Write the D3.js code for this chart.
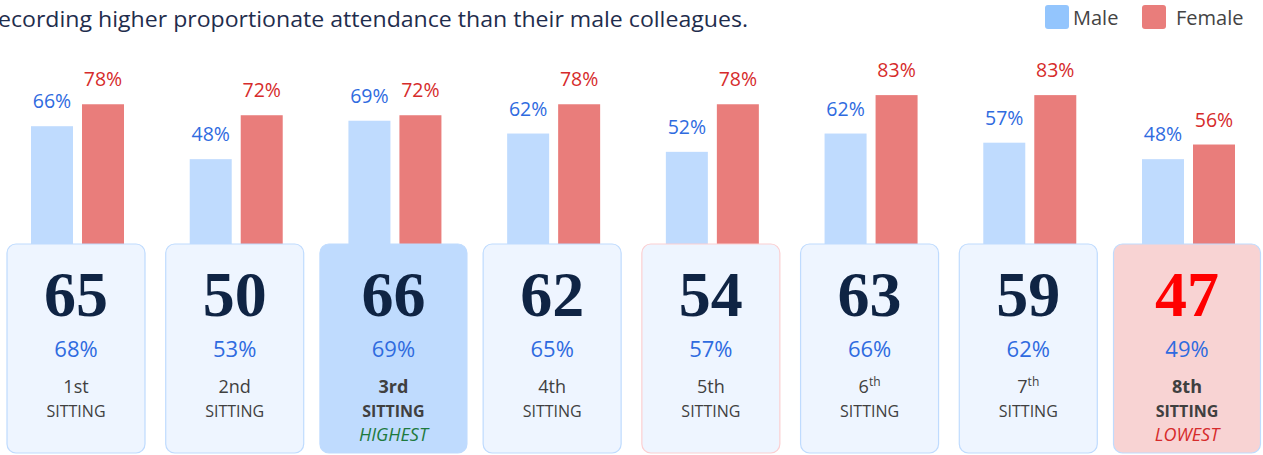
<!DOCTYPE html>
<html>
<head>
<meta charset="utf-8">
<script src="https://cdn.jsdelivr.net/npm/d3@7"></script>
<style>
  body { margin: 0; background: #fff; }
  svg { display: block; font-family: "Open Sans", sans-serif; }
</style>
</head>
<body>
<div id="chart"></div>
<script>
const sittings = ["1st", "2nd", "3rd", "4th", "5th", "6th", "7th", "8th"];
const malePct = [66, 48, 69, 62, 52, 62, 57, 48];
const femalePct = [78, 72, 72, 78, 78, 83, 83, 56];
const attendance = [65, 50, 66, 62, 54, 63, 59, 47];
const overallPct = [68, 53, 69, 65, 57, 66, 62, 49];
const notes = ["", "", "HIGHEST", "", "", "", "", "LOWEST"];

const dims = {width: 1263, height: 455};
const cardTop = 244, cardBottom = 453;

const svg = d3.select("#chart")
    .append("svg")
    .attr("width", dims.width)
    .attr("height", dims.height);

// subtitle line, cut at the left edge like the original
svg.append("text")
    .attr("x", -2)
    .attr("y", 27)
    .attr("font-size", 21)
    .attr("fill", "#1f2d4d")
    .attr("textLength", 750)
    .attr("lengthAdjust", "spacingAndGlyphs")
    .text("ecording higher proportionate attendance than their male colleagues.");

// legend
const legend = [
    {label: "Male", color: "#93c5fd", x: 1045},
    {label: "Female", color: "#e97d7b", x: 1142}
];
const lg = svg.selectAll(".legend")
    .data(legend)
    .join("g")
    .attr("class", "legend")
    .attr("transform", d => `translate(${d.x},5)`);
lg.append("rect")
    .attr("width", 24).attr("height", 24).attr("rx", 3)
    .attr("fill", d => d.color);
lg.append("text")
    .attr("x", d => d.label == "Male" ? 28 : 34)
    .attr("y", 20)
    .attr("font-size", 20)
    .attr("fill", "#444")
    .text(d => d.label);

const xScale = d3.scalePoint()
    .domain(sittings)
    .range([76, 1187]);

const yScale = d3.scaleLinear()
    .domain([0, 100])
    .range([247, 64]);

const barW = 42;
const rows = sittings.map((s, i) => ({
    s, i, male: malePct[i], female: femalePct[i],
    total: attendance[i], pct: overallPct[i], note: notes[i]
}));

const bars = svg.append("g");
bars.selectAll(".male")
    .data(rows)
    .join("rect")
    .attr("x", d => xScale(d.s) - 45)
    .attr("y", d => yScale(d.male))
    .attr("width", barW)
    .attr("height", d => yScale(0) - yScale(d.male))
    .attr("fill", "#bfdbfe");
bars.selectAll(".female")
    .data(rows)
    .join("rect")
    .attr("x", d => xScale(d.s) + 6)
    .attr("y", d => yScale(d.female))
    .attr("width", barW)
    .attr("height", d => yScale(0) - yScale(d.female))
    .attr("fill", "#e97d7b");

bars.selectAll(".mlab")
    .data(rows)
    .join("text")
    .attr("x", d => xScale(d.s) - 24)
    .attr("y", d => yScale(d.male) - 18)
    .attr("text-anchor", "middle")
    .attr("font-size", 19.5)
    .attr("fill", "#2f6bdf")
    .text(d => d.male + "%");
bars.selectAll(".flab")
    .data(rows)
    .join("text")
    .attr("x", d => xScale(d.s) + 27)
    .attr("y", d => yScale(d.female) - 18)
    .attr("text-anchor", "middle")
    .attr("font-size", 19.5)
    .attr("fill", "#d62b2b")
    .text(d => d.female + "%");

// cards
const cardFill = d => d.note == "HIGHEST" ? "#bfdbfe" : d.note == "LOWEST" ? "#f8d3d3" : "#eef5ff";
const cardStroke = d => d.s == "5th" ? "#fbcfd2" : "#bfdbfe";
const cardW = d => d.note ? 147 : 138;

const cards = svg.selectAll(".card")
    .data(rows)
    .join("g")
    .attr("class", "card")
    .attr("transform", d => `translate(${xScale(d.s)},0)`);

cards.append("rect")
    .attr("x", d => -cardW(d) / 2)
    .attr("y", cardTop)
    .attr("width", cardW)
    .attr("height", cardBottom - cardTop)
    .attr("rx", 9)
    .attr("fill", cardFill)
    .attr("stroke", cardStroke)
    .attr("stroke-width", 1.2);

cards.append("text")
    .attr("y", 316)
    .attr("text-anchor", "middle")
    .attr("font-family", "'Liberation Serif', 'DejaVu Serif', serif")
    .attr("font-weight", "bold")
    .attr("font-size", 64)
    .attr("fill", d => d.note == "LOWEST" ? "#ff0000" : "#0f2444")
    .text(d => d.total);

cards.append("text")
    .attr("y", 357)
    .attr("text-anchor", "middle")
    .attr("font-size", 22)
    .attr("fill", "#2f6bdf")
    .text(d => d.pct + "%");

const ord = cards.append("text")
    .attr("y", 393)
    .attr("text-anchor", "middle")
    .attr("font-size", 18)
    .attr("font-weight", d => d.note ? "bold" : "normal")
    .attr("fill", "#404040");
ord.each(function(d) {
    const t = d3.select(this);
    if (d.s == "6th" || d.s == "7th") {
        t.append("tspan").text(d.s.slice(0, 1));
        t.append("tspan").attr("font-size", 12).attr("dy", -7).text("th");
    } else {
        t.text(d.s);
    }
});

cards.append("text")
    .attr("y", 417)
    .attr("text-anchor", "middle")
    .attr("font-size", 16)
    .attr("font-weight", d => d.note ? "bold" : "normal")
    .attr("fill", "#404040")
    .text("SITTING");

cards.append("text")
    .attr("y", 441)
    .attr("text-anchor", "middle")
    .attr("font-size", 18)
    .attr("font-style", "italic")
    .attr("fill", d => d.note == "HIGHEST" ? "#1e7a3e" : "#d62b2b")
    .text(d => d.note);
</script>
</body>
</html>
